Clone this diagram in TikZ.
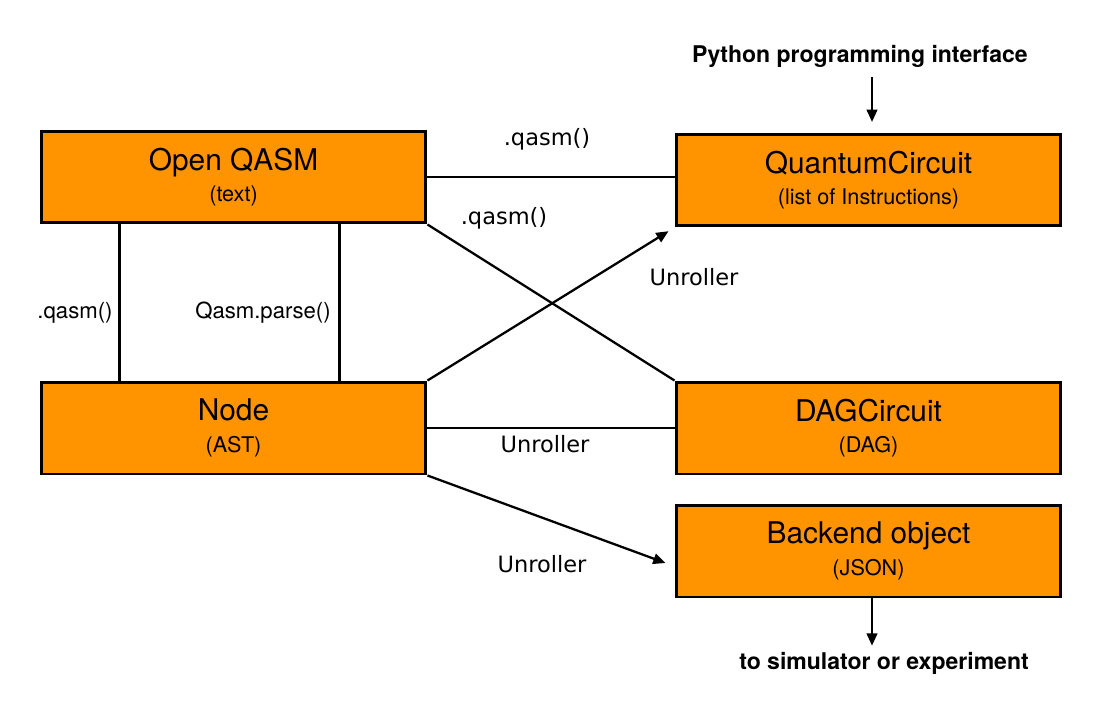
\documentclass[tikz,border=0pt]{standalone}
\usepackage{fontspec}
\setmainfont{TeX Gyre Heros}
\newfontfamily\verdanafont{DejaVu Sans}
\usetikzlibrary{arrows.meta,calc,positioning}
\definecolor{boxorange}{RGB}{255,148,0}
\tikzset{
  stage/.style={draw, line width=1.7pt, fill=boxorange, minimum width=7.7cm, minimum height=1.84cm, align=center, inner sep=0pt, font=\fontsize{17}{17}\selectfont},
  link/.style={line width=1.3pt},
  flow/.style={line width=1.3pt, -{Triangle[length=7pt,width=6pt]}},
  edgelbl/.style={font=\verdanafont\fontsize{12.8}{15}\selectfont},
  sidelbl/.style={font=\fontsize{12.6}{15}\selectfont},
  extlbl/.style={font=\bfseries\fontsize{13.1}{16}\selectfont},
}
\newcommand{\subline}[1]{{\fontsize{12.3}{17}\selectfont #1}}

\begin{document}
\begin{tikzpicture}[x=0.02cm, y=-0.02cm]
\useasboundingbox (0,0) rectangle (1101,723);

% Boxes
\node[stage] (qasm) at (233.5,177) {Open QASM\\[1pt]\subline{(text)}};
\node[stage] (qc) at (868.5,180) {QuantumCircuit\\[1pt]\subline{(list of Instructions)}};
\node[stage] (ast) at (233.5,428) {Node\\[1pt]\subline{(AST)}};
\node[stage] (dag) at (868.5,428) {DAGCircuit\\[1pt]\subline{(DAG)}};
\node[stage] (backend) at (868.5,551) {Backend object\\[1pt]\subline{(JSON)}};

% Outside labels
\node[extlbl] (python) at (860,56) {Python programming interface};
\node[extlbl] (target) at (884,663) {to simulator or experiment};

% Connectors
\draw[link] (qasm.east) -- (qasm.east -| qc.west);
\draw[link] (qasm.south east) -- (dag.north west);
\draw[flow, shorten >=4pt] (ast.north east) -- (qc.south west);
\draw[link] (ast.east) -- (dag.west);
\draw[flow] (ast.south east) -- ($(backend.west)+(-9,12)$);
\draw[link] ($(qasm.south west)+(80,0)$) -- ($(ast.north west)+(80,0)$);
\draw[link] ($(qasm.south west)+(300,0)$) -- ($(ast.north west)+(300,0)$);

\coordinate (pyin) at ($(qc.north)+(3.5,0)$);
\draw[flow, shorten >=6pt, shorten <=2pt] (pyin |- python.south) -- (pyin);
\coordinate (simout) at ($(backend.south)+(3.5,0)$);
\draw[flow] (simout) -- (simout |- target.north);

% Connector labels
\node[edgelbl] (lqc) at (547,139) {.qasm()};
\node[edgelbl] (ldag) at (504,218) {.qasm()};
\node[edgelbl] (lunqc) at (694,277) {Unroller};
\node[edgelbl] (lundag) at (545,444) {Unroller};
\node[edgelbl] (lunback) at (542,564) {Unroller};
\node[sidelbl] (lqasm) at (75,313) {.qasm()};
\node[sidelbl] (lparse) at (263,313) {Qasm.parse()};

\end{tikzpicture}
\end{document}
